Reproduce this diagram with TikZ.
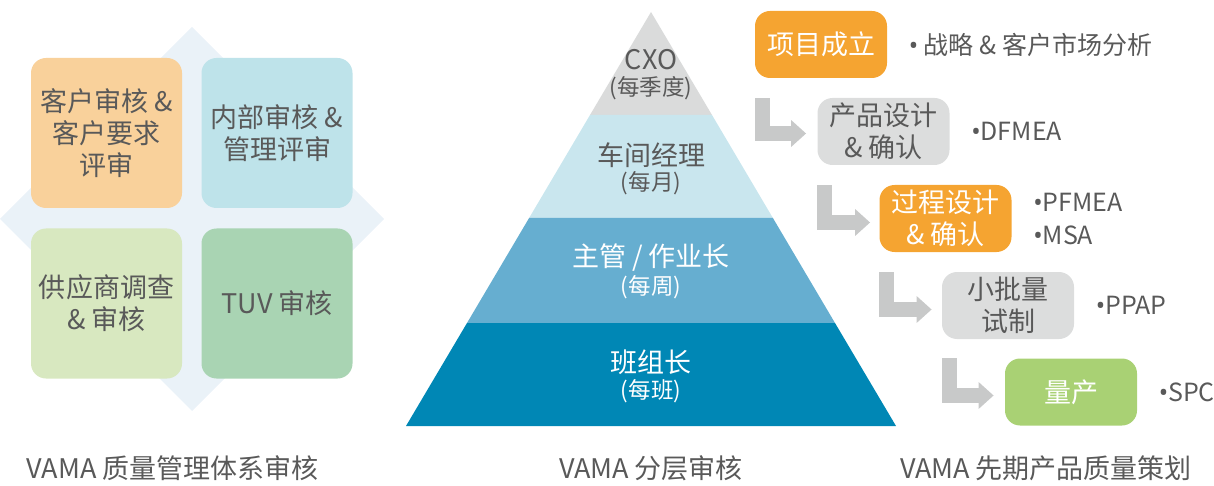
\documentclass[tikz,border=0pt]{standalone}
\usepackage{fontspec}
\setmainfont{Noto Sans CJK SC}
\newfontfamily\dotfont{Noto Sans}
\usepackage{tikz}
\usetikzlibrary{positioning}
\usetikzlibrary{arrows.meta}
\usepackage{xcolor}

\newcommand{\itemdot}{{\dotfont •}}

\definecolor{txtgray}{HTML}{595959}
\definecolor{diamondblue}{HTML}{EAF2F8}
\definecolor{quadorange}{HTML}{F9D19B}
\definecolor{quadcyan}{HTML}{BEE3EA}
\definecolor{quadlime}{HTML}{D8E8C0}
\definecolor{quadgreen}{HTML}{A9D4B3}
\definecolor{pyrgray}{HTML}{DADBDB}
\definecolor{pyrlight}{HTML}{C9E6EE}
\definecolor{pyrmid}{HTML}{66AED0}
\definecolor{pyrdark}{HTML}{0087B5}
\definecolor{stageorange}{HTML}{F5A431}
\definecolor{stagegray}{HTML}{DCDDDD}
\definecolor{stagegreen}{HTML}{A9D174}
\definecolor{arrgray}{HTML}{C8C9C9}

\begin{document}
\begin{tikzpicture}[x=0.5pt,y=-0.5pt,
  quad/.style={rounded corners=7.5pt, minimum width=75.5pt, minimum height=75pt, inner sep=0pt, align=center, text=txtgray, font=\fontsize{13.5}{16}\selectfont},
  stage/.style={rounded corners=7.5pt, minimum width=66pt, minimum height=33.5pt, inner sep=0pt, align=center, font=\fontsize{13.5}{16}\selectfont},
  note/.style={right=10.5pt of #1, inner sep=0pt, text=txtgray, align=left, font=\fontsize{12.5}{16.5}\selectfont},
  lvl/.style={inner sep=0pt, text=#1, font=\fontsize{13.5}{16}\selectfont},
  freq/.style={inner sep=0pt, text=#1, font=\fontsize{11.25}{14}\selectfont},
  flow/.style={draw=arrgray, line width=7.5pt, -{Triangle[length=7.5pt,width=13pt]}},
  title/.style={inner sep=0pt, text=txtgray, font=\fontsize{13.5}{16}\selectfont}]

\useasboundingbox (0,0) rectangle (1214,486);

%quality system audit
\fill[diamondblue] (192,27)--(384,219)--(192,411)--(0,219)--cycle;

\node[quad, fill=quadorange] (custaudit) at (106.5,133) {客户审核 \&\\客户要求\\评审};
\node[quad, fill=quadcyan] (intaudit) at (277,133) {内部审核 \&\\管理评审};
\node[quad, fill=quadlime] (suppaudit) at (106.5,303.5) {供应商调查\\\& 审核};
\node[quad, fill=quadgreen] (tuvaudit) at (277,303.5) {TUV 审核};



%for the layered pyramid
\fill[pyrgray] (651,12)--(712,115)--(590,115)--cycle;
\fill[pyrlight] (590,115)--(712,115)--(772.9,218)--(529.1,218)--cycle;
\fill[pyrmid] (529.1,218)--(772.9,218)--(835,323)--(467,323)--cycle;
\fill[pyrdark] (467,323)--(835,323)--(896,426)--(406,426)--cycle;

\node[lvl=txtgray] (cxo) at (651,60) {CXO};
\node[freq=txtgray] (cxofreq) at (651,88) {(每季度)};
\node[lvl=txtgray] (manager) at (651,155) {车间经理};
\node[freq=txtgray] (managerfreq) at (651,183) {(每月)};
\node[lvl=white] (super) at (651,258) {主管 / 作业长};
\node[freq=white] (superfreq) at (651,287) {(每周)};
\node[lvl=white] (leader) at (651,362) {班组长};
\node[freq=white] (leaderfreq) at (651,391) {(每班)};



%product quality planning
\node[stage, fill=stageorange, text=white] (launch) at (821,44.5) {项目成立};
\node[stage, fill=stagegray, text=txtgray] (design) at (883.5,131.5) {产品设计\\\& 确认};
\node[stage, fill=stageorange, text=white] (process) at (945.5,218.5) {过程设计\\\& 确认};
\node[stage, fill=stagegray, text=txtgray] (pilot) at (1008,305.5) {小批量\\试制};
\node[stage, fill=stagegreen, text=white] (mass) at (1071,392) {量产};

\node[note=launch] (launchnote) {\itemdot\ 战略 \& 客户市场分析};
\node[note=design] (designnote) {\itemdot DFMEA};
\node[note=process] (processnote) {\itemdot PFMEA\\\itemdot MSA};
\node[note=pilot] (pilotnote) {\itemdot PPAP};
\node[note=mass] (massnote) {\itemdot SPC};

\draw[flow] ([xshift=3.75pt,yshift=-10pt]launch.south west) |- ([xshift=-5.5pt,yshift=-1pt]design.west);
\draw[flow] ([xshift=3.75pt,yshift=-10pt]design.south west) |- ([xshift=-4.5pt,yshift=-2pt]process.west);
\draw[flow] ([xshift=3.75pt,yshift=-10pt]process.south west) |- ([xshift=-5pt,yshift=-2pt]pilot.west);
\draw[flow] ([xshift=3.75pt,yshift=-9.5pt]pilot.south west) |- ([xshift=-5.5pt,yshift=-1.75pt]mass.west);



\node[title] (qmstitle) at (172.5,468) {VAMA 质量管理体系审核};
\node[title] (lpatitle) at (651,468) {VAMA 分层审核};
\node[title] (apqptitle) at (1046,468) {VAMA 先期产品质量策划};

\end{tikzpicture}
\end{document}
